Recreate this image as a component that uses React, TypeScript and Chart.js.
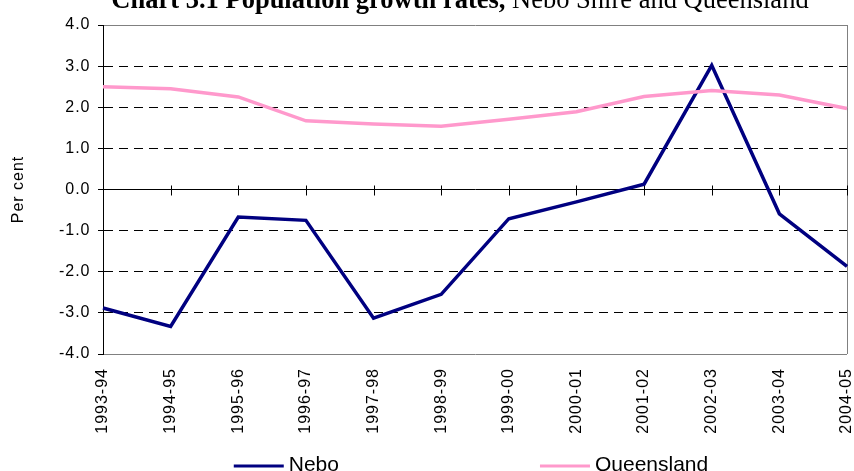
import React, { useEffect, useRef } from 'react';
import { Chart, registerables } from 'chart.js';

Chart.register(...registerables);

// ---- data ----
const categories = ['1993-94', '1994-95', '1995-96', '1996-97', '1997-98', '1998-99', '1999-00', '2000-01', '2001-02', '2002-03', '2003-04', '2004-05'];
const neboValues = [-2.88, -3.33, -0.67, -0.75, -3.13, -2.55, -0.71, -0.30, 0.13, 3.02, -0.59, -1.87];
const queenslandValues = [2.50, 2.45, 2.25, 1.67, 1.59, 1.54, 1.71, 1.89, 2.26, 2.41, 2.30, 1.97];
const seriesNames = ['Nebo', 'Queensland'];
const seriesColors = ['#000080', '#FF99CC'];
const yMin = -4;
const yMax = 4;
const yStep = 1;
const titleBold = 'Chart 3.1 Population growth rates,';
const titleRegular = ' Nebo Shire and Queensland';
const yAxisTitle = 'Per cent';

const SANS = "'Liberation Sans', Arial, sans-serif";
const SERIF = "'Liberation Serif', 'Times New Roman', serif";
const SPACING = '1px';

const spacingPlugin = {
  id: 'spacing',
  beforeUpdate(chart: any) { chart.ctx.letterSpacing = SPACING; },
  beforeLayout(chart: any) { chart.ctx.letterSpacing = SPACING; },
  beforeDraw(chart: any) { chart.ctx.letterSpacing = SPACING; },
};

const zeroTicksPlugin = {
  id: 'zeroTicks',
  beforeDatasetsDraw(chart: any) {
    const xs = chart.scales.x;
    const ys = chart.scales.y;
    const ctx = chart.ctx;
    const y0 = Math.round(ys.getPixelForValue(0)) + 0.5;
    ctx.save();
    ctx.strokeStyle = '#000';
    ctx.lineWidth = 1;
    ctx.beginPath();
    for (let i = 0; i < xs.ticks.length; i++) {
      const px = Math.round(xs.getPixelForTick(i)) + 0.5;
      ctx.moveTo(px, y0 - 5);
      ctx.lineTo(px, y0 + 5);
    }
    ctx.stroke();
    ctx.restore();
  },
};

const titlePlugin = {
  id: 'mixedTitle',
  afterDraw(chart: any) {
    const ctx = chart.ctx;
    const area = chart.chartArea;
    const size = 26.5;
    ctx.save();
    ctx.letterSpacing = '0px';
    ctx.fillStyle = '#000';
    ctx.textAlign = 'left';
    ctx.textBaseline = 'alphabetic';
    const boldFont = `bold ${size}px ${SERIF}`;
    const regFont = `${size}px ${SERIF}`;
    ctx.font = boldFont;
    const wb = ctx.measureText(titleBold).width;
    ctx.font = regFont;
    const wr = ctx.measureText(titleRegular).width;
    const cx = (area.left + area.right) / 2 - 15;
    const start = cx - (wb + wr) / 2;
    const baseline = 8;
    ctx.font = boldFont;
    ctx.fillText(titleBold, start, baseline);
    ctx.font = regFont;
    ctx.fillText(titleRegular, start + wb, baseline);
    ctx.restore();
  },
};

const legendPlugin = {
  id: 'spacedLegend',
  afterDraw(chart: any) {
    const ctx = chart.ctx;
    const area = chart.chartArea;
    ctx.save();
    ctx.letterSpacing = '0px';
    ctx.font = `21px ${SANS}`;
    const lineLen = 50;
    const textGap = 5;
    const itemGap = 201;
    const widths = seriesNames.map((n) => lineLen + textGap + ctx.measureText(n).width);
    const total = widths.reduce((a, b) => a + b, 0) + itemGap * (widths.length - 1);
    const cx = (area.left + area.right) / 2 - 4;
    let x = cx - total / 2;
    const textY = chart.height;
    const lineY = chart.height - 5;
    seriesNames.forEach((name, i) => {
      ctx.strokeStyle = seriesColors[i];
      ctx.lineWidth = 3;
      ctx.beginPath();
      ctx.moveTo(x, lineY);
      ctx.lineTo(x + lineLen, lineY);
      ctx.stroke();
      ctx.fillStyle = '#000';
      ctx.textAlign = 'left';
      ctx.textBaseline = 'alphabetic';
      ctx.fillText(name, x + lineLen + textGap, textY);
      x += widths[i] + itemGap;
    });
    ctx.restore();
  },
};

export default function App() {
  const canvasRef = useRef<HTMLCanvasElement | null>(null);

  useEffect(() => {
    document.body.style.margin = '0';
    const canvas = canvasRef.current;
    if (!canvas) return;
    const chart = new Chart(canvas, {
      type: 'line',
      data: {
        labels: categories,
        datasets: [
          {
            label: seriesNames[0],
            data: neboValues,
            borderColor: seriesColors[0],
            backgroundColor: seriesColors[0],
            borderWidth: 3.5,
            pointRadius: 0,
            tension: 0,
            order: 1,
          },
          {
            label: seriesNames[1],
            data: queenslandValues,
            borderColor: seriesColors[1],
            backgroundColor: seriesColors[1],
            borderWidth: 3.5,
            pointRadius: 0,
            tension: 0,
            order: 0,
          },
        ],
      },
      options: {
        animation: false,
        responsive: true,
        maintainAspectRatio: false,
        layout: { autoPadding: false, padding: { top: 25, right: 7, bottom: 0, left: 0 } },
        plugins: {
          legend: { display: false },
          title: { display: false },
          tooltip: { enabled: false },
        },
        font: { family: SANS },
        scales: {
          x: {
            type: 'category',
            offset: false,
            ticks: {
              color: '#000',
              font: { family: SANS, size: 16 },
              maxRotation: 90,
              minRotation: 90,
              padding: 14,
              autoSkip: false,
            },
            grid: {
              display: true,
              drawOnChartArea: true,
              drawTicks: false,
              lineWidth: 1,
              color: (c: any) => (c.index === categories.length - 1 ? '#808080' : 'rgba(0,0,0,0)'),
            },
            border: { display: false },
            afterFit: (s: any) => {
              s.height = 117;
              s.paddingLeft = 0;
              s.paddingRight = 0;
            },
          },
          y: {
            min: yMin,
            max: yMax,
            ticks: {
              stepSize: yStep,
              color: '#000',
              font: { family: SANS, size: 16 },
              padding: 7.5,
              callback: (v: any) => Number(v).toFixed(1),
            },
            grid: {
              color: (c: any) => (c.tick && Math.abs(c.tick.value) === yMax ? '#808080' : '#000'),
              lineWidth: 1,
              drawTicks: true,
              tickLength: 5,
              tickColor: '#000',
            },
            border: {
              display: true,
              color: '#000',
              width: 1,
              dash: (c: any) => (c.tick && c.tick.value !== 0 && Math.abs(c.tick.value) !== yMax ? [9, 6] : []),
            },
            title: {
              display: true,
              text: yAxisTitle,
              color: '#000',
              font: { family: SANS, size: 16 },
              padding: { top: 9, bottom: 0 },
            },
            afterFit: (s: any) => {
              s.width = 103;
              s.paddingTop = 0;
              s.paddingBottom = 0;
            },
          },
        },
      } as any,
      plugins: [spacingPlugin, zeroTicksPlugin, titlePlugin, legendPlugin],
    });
    return () => chart.destroy();
  }, []);

  return (
    <div style={{ position: 'fixed', left: 0, top: 0, width: 854, height: 471, background: '#fff' }}>
      <canvas ref={canvasRef} />
    </div>
  );
}
